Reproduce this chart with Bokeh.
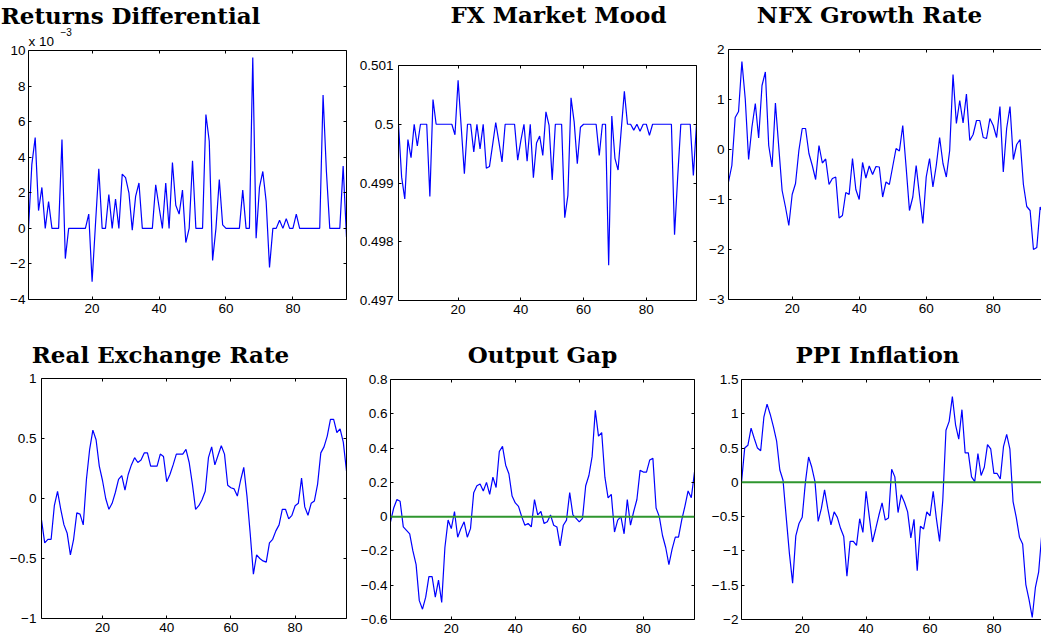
from bokeh.plotting import figure
from bokeh.models import Range1d, FixedTicker, LinearAxis, Label, Span, CustomJSTickFormatter
from bokeh.layouts import row, column
from bokeh.embed import file_html
from bokeh.resources import INLINE

# ---------------- data ----------------
t = list(range(1, 97))

# Returns differential, in units of 1e-3
returns_diff = [0.0, 3.6, 5.1, 1.0, 2.3, 0.0, 1.5, 0.0, 0.0, 0.0,
                5.0, -1.7, 0.0, 0.0, 0.0, 0.0, 0.0, 0.0, 0.8, -3.0,
                0.2, 3.35, 0.0, 0.0, 1.9, 0.0, 1.65, 0.0, 3.05, 2.85,
                2.0, -0.1, 1.8, 2.55, 0.0, 0.0, 0.0, 0.0, 2.45, 1.2,
                0.0, 2.55, 0.0, 3.7, 1.3, 0.8, 2.15, -0.8, 0.0, 3.8,
                0.0, 0.0, 0.0, 6.4, 4.9, -1.8, 0.0, 2.75, 0.2, 0.0,
                0.0, 0.0, 0.0, 0.0, 2.15, 0.0, 0.0, 9.6, -0.55, 2.3,
                3.2, 1.5, -2.2, 0.0, 0.0, 0.45, 0.0, 0.55, 0.0, 0.0,
                0.8, 0.0, 0.0, 0.0, 0.0, 0.0, 0.0, 0.0, 7.5, 3.2,
                0.0, 0.0, 0.0, 0.0, 3.5, -0.5]

fx_mood = [0.5, 0.4991, 0.49873, 0.49974, 0.49943, 0.5, 0.49963, 0.5, 0.5, 0.5,
           0.49877, 0.50042, 0.5, 0.5, 0.5, 0.5, 0.5, 0.5, 0.49982, 0.50075,
           0.49995, 0.49916, 0.5, 0.5, 0.49953, 0.5, 0.49958, 0.5, 0.49925, 0.49928,
           0.49965, 0.50003, 0.4997, 0.49936, 0.5, 0.5, 0.5, 0.5, 0.49939, 0.49972,
           0.5, 0.49937, 0.5, 0.49909, 0.49968, 0.4998, 0.49947, 0.50021, 0.49998, 0.49905,
           0.5, 0.5, 0.5, 0.49841, 0.49879, 0.50045, 0.50004, 0.49933, 0.49995, 0.5,
           0.5, 0.5, 0.5, 0.5, 0.49947, 0.5, 0.5, 0.4976, 0.50014, 0.49942,
           0.49922, 0.4999, 0.50056, 0.5, 0.5, 0.4999, 0.5, 0.49988, 0.5, 0.5,
           0.49981, 0.5, 0.5, 0.5, 0.5, 0.5, 0.5, 0.5, 0.49812, 0.4991,
           0.5, 0.5, 0.5, 0.5, 0.49913, 0.5]

nfx_growth = [-0.65, -0.32, 0.64, 0.76, 1.76, 1.01, -0.2, 0.45, 0.92, 0.23,
              1.28, 1.55, 0.08, -0.35, 0.93, 0.05, -0.82, -1.15, -1.52, -0.9,
              -0.68, -0.02, 0.42, 0.42, -0.08, -0.32, -0.6, 0.08, -0.27, -0.19,
              -0.7, -0.58, -0.55, -1.37, -1.32, -0.86, -0.9, -0.18, -0.8, -1.0,
              -0.26, -0.57, -0.33, -0.5, -0.34, -0.35, -0.95, -0.65, -0.7, -0.34,
              0.02, -0.03, 0.48, -0.35, -1.22, -0.95, -0.32, -0.92, -1.48, -0.55,
              -0.18, -0.75, -0.32, 0.24, -0.28, -0.55, -0.02, 1.5, 0.52, 0.98,
              0.53, 1.11, 0.18, 0.3, 0.58, 0.58, 0.24, 0.22, 0.62, 0.48,
              0.24, 0.86, -0.45, 0.42, 0.86, -0.2, 0.1, 0.2, -0.7, -1.14,
              -1.22, -2.0, -1.96, -1.15, -1.3, -1.35]

real_fx = [-0.18, -0.37, -0.34, -0.34, -0.06, 0.06, -0.09, -0.22, -0.29, -0.47,
           -0.34, -0.12, -0.13, -0.22, 0.16, 0.41, 0.57, 0.49, 0.27, 0.15,
           0.0, -0.09, -0.04, 0.05, 0.16, 0.19, 0.07, 0.2, 0.28, 0.34,
           0.3, 0.32, 0.38, 0.38, 0.27, 0.27, 0.27, 0.37, 0.35, 0.14,
           0.2, 0.28, 0.37, 0.37, 0.37, 0.41, 0.3, 0.12, -0.09, -0.06,
           -0.01, 0.06, 0.34, 0.43, 0.28, 0.36, 0.44, 0.37, 0.11, 0.09,
           0.08, 0.02, 0.15, 0.26, 0.02, -0.29, -0.63, -0.47, -0.5, -0.52,
           -0.53, -0.37, -0.34, -0.27, -0.22, -0.09, -0.09, -0.17, -0.14, -0.06,
           -0.04, 0.17, -0.07, -0.14, -0.04, -0.02, 0.12, 0.38, 0.43, 0.52,
           0.66, 0.66, 0.55, 0.58, 0.47, 0.23]

output_gap = [-0.03, 0.05, 0.1, 0.09, -0.06, -0.08, -0.1, -0.2, -0.28, -0.49,
              -0.54, -0.47, -0.35, -0.35, -0.47, -0.37, -0.5, -0.18, -0.02, -0.07,
              0.03, -0.12, -0.07, -0.03, -0.12, -0.07, 0.14, 0.18, 0.19, 0.15,
              0.2, 0.13, 0.23, 0.17, 0.38, 0.41, 0.3, 0.25, 0.12, 0.08,
              0.06, 0.0, -0.05, -0.04, -0.06, 0.1, 0.01, 0.03, -0.04, -0.03,
              0.01, -0.05, -0.06, -0.17, -0.05, -0.02, 0.14, 0.01, -0.01, -0.03,
              -0.01, 0.18, 0.24, 0.35, 0.62, 0.47, 0.49, 0.23, 0.11, 0.13,
              -0.09, -0.02, 0.0, -0.1, 0.1, -0.05, 0.03, 0.1, 0.27, 0.26,
              0.26, 0.33, 0.34, 0.05, 0.0, -0.11, -0.18, -0.28, -0.19, -0.12,
              -0.12, -0.02, 0.06, 0.15, 0.11, 0.26]

ppi_infl = [0.0, 0.5, 0.54, 0.79, 0.64, 0.5, 0.46, 0.95, 1.14, 0.99,
            0.81, 0.6, 0.18, 0.03, -0.51, -1.04, -1.47, -0.78, -0.6, -0.51,
            0.0, 0.37, 0.22, 0.01, -0.57, -0.38, -0.11, -0.38, -0.62, -0.43,
            -0.51, -0.67, -0.79, -1.37, -0.86, -0.86, -0.92, -0.53, -0.73, -0.13,
            -0.5, -0.87, -0.68, -0.48, -0.3, -0.55, -0.52, 0.19, 0.08, -0.44,
            -0.18, -0.29, -0.43, -0.81, -0.54, -1.29, -0.64, -0.68, -0.43, -0.49,
            -0.13, -0.53, -0.86, -0.26, 0.76, 0.89, 1.25, 0.84, 0.63, 1.06,
            0.43, 0.43, 0.08, 0.01, 0.42, 0.1, 0.22, 0.55, 0.49, 0.13,
            0.13, 0.05, 0.52, 0.7, 0.49, -0.28, -0.51, -0.8, -0.9, -1.49,
            -1.71, -1.97, -1.53, -1.31, -0.75, -0.5]

titles = ["Returns Differential", "FX Market Mood", "NFX Growth Rate",
          "Real Exchange Rate", "Output Gap", "PPI Inflation"]

x_ticks = [20, 40, 60, 80]
returns_ticks = [-4, -2, 0, 2, 4, 6, 8, 10]
fx_ticks = [0.497, 0.498, 0.499, 0.5, 0.501]
nfx_ticks = [-3, -2, -1, 0, 1, 2]
rer_ticks = [-1, -0.5, 0, 0.5, 1]
gap_ticks = [-0.6, -0.4, -0.2, 0, 0.2, 0.4, 0.6, 0.8]
ppi_ticks = [-2, -1.5, -1, -0.5, 0, 0.5, 1, 1.5]

for s in (returns_diff, fx_mood, nfx_growth, real_fx, output_gap, ppi_infl):
    assert len(s) == 96, len(s)

# ---------------- styling helpers ----------------
TICK_FONT = "Liberation Sans"
TICK_SIZE = "13.5px"
TITLE_FONT = "DejaVu Serif"
TITLE_SIZE = "23px"

label_fmt = CustomJSTickFormatter(code="""
    var v = Math.round(tick * 100000) / 100000;
    return String(v).replace('-', '\\u2212');
""")
blank_fmt = CustomJSTickFormatter(code="return '';")


def style_axis(ax, ticks, standoff, labels=True):
    ax.ticker = FixedTicker(ticks=ticks)
    ax.axis_line_color = "black"
    ax.axis_line_width = 1
    ax.major_tick_line_color = "black"
    ax.major_tick_in = 3
    ax.major_tick_out = 0
    ax.minor_tick_in = 0
    ax.minor_tick_out = 0
    ax.minor_tick_line_color = None
    ax.axis_label = None
    if labels:
        ax.formatter = label_fmt
        ax.major_label_text_font = TICK_FONT
        ax.major_label_text_font_size = TICK_SIZE
        ax.major_label_text_color = "black"
        ax.major_label_standoff = standoff
    else:
        ax.formatter = blank_fmt
        ax.major_label_standoff = 0
        ax.major_label_text_font_size = "1px"


def panel(width, height, bl, br, bt, bb, xr, yr, yticks, y, title,
          tcx, tdy, ystand, right_box=True, zero_line=False):
    p = figure(width=width, height=height,
               x_range=Range1d(*xr), y_range=Range1d(*yr),
               output_backend="svg", toolbar_location=None, tools="",
               min_border_left=bl, min_border_right=br,
               min_border_top=bt, min_border_bottom=bb)
    if "frame_align" in p.properties():
        p.frame_align = False
    p.background_fill_color = "white"
    p.border_fill_color = "white"
    p.outline_line_color = None
    p.xgrid.visible = False
    p.ygrid.visible = False
    style_axis(p.xaxis[0], x_ticks, 4)
    style_axis(p.yaxis[0], yticks, ystand)
    top = LinearAxis()
    style_axis(top, x_ticks, 0, labels=False)
    p.add_layout(top, "above")
    if right_box:
        rt = LinearAxis()
        style_axis(rt, yticks, 0, labels=False)
        p.add_layout(rt, "right")
    if zero_line:
        p.add_layout(Span(location=0, dimension="width",
                          line_color="#2f962f", line_width=2))
    p.line(t, y, line_color="#0000ff", line_width=1.2)
    p.add_layout(Label(x=xr[0], y=yr[1], x_offset=tcx, y_offset=tdy,
                       text=title, text_font=TITLE_FONT,
                       text_font_style="bold", text_font_size=TITLE_SIZE,
                       text_color="black", text_align="center",
                       text_baseline="alphabetic"), "above")
    return p


# top row: height 335, bottom row: height 305
p1 = panel(356, 335, 28, 10, 49, 36, (1, 96), (-4, 10), returns_ticks,
           returns_diff, titles[0], 102, 35, 3)
p1.add_layout(Label(x=1, y=10, x_offset=0, y_offset=9.5, text="x 10",
                    text_font=TICK_FONT, text_font_size="13.5px",
                    text_color="black", text_baseline="alphabetic"), "above")
p1.add_layout(Label(x=1, y=10, x_offset=32, y_offset=19, text="\u22123",
                    text_font=TICK_FONT, text_font_size="10px",
                    text_color="black", text_baseline="alphabetic"), "above")

p2 = panel(348, 335, 41, 8, 65, 35, (1, 96), (0.497, 0.501), fx_ticks,
           fx_mood, titles[1], 160, 51, 5)
p3 = panel(337, 335, 24, 0, 49, 36, (1, 94.4), (-3, 2), nfx_ticks,
           nfx_growth, titles[2], 141, 35, 4, right_box=False)

p4 = panel(352, 305, 41, 6, 43, 22, (1, 96), (-1, 1), rer_ticks,
           real_fx, titles[3], 119, 24, 5)
p5 = panel(352, 305, 38, 10, 44, 21, (1, 96), (-0.6, 0.8), gap_ticks,
           output_gap, titles[4], 152, 25, 3, zero_line=True)
p6 = panel(337, 305, 37, 0, 44, 21, (1, 94.9), (-2, 1.5), ppi_ticks,
           ppi_infl, titles[5], 136, 25, 3, right_box=False, zero_line=True)

layout = column(row(p1, p2, p3, spacing=0), row(p4, p5, p6, spacing=0), spacing=0)

open("out.html", "w").write(file_html(layout, INLINE))
